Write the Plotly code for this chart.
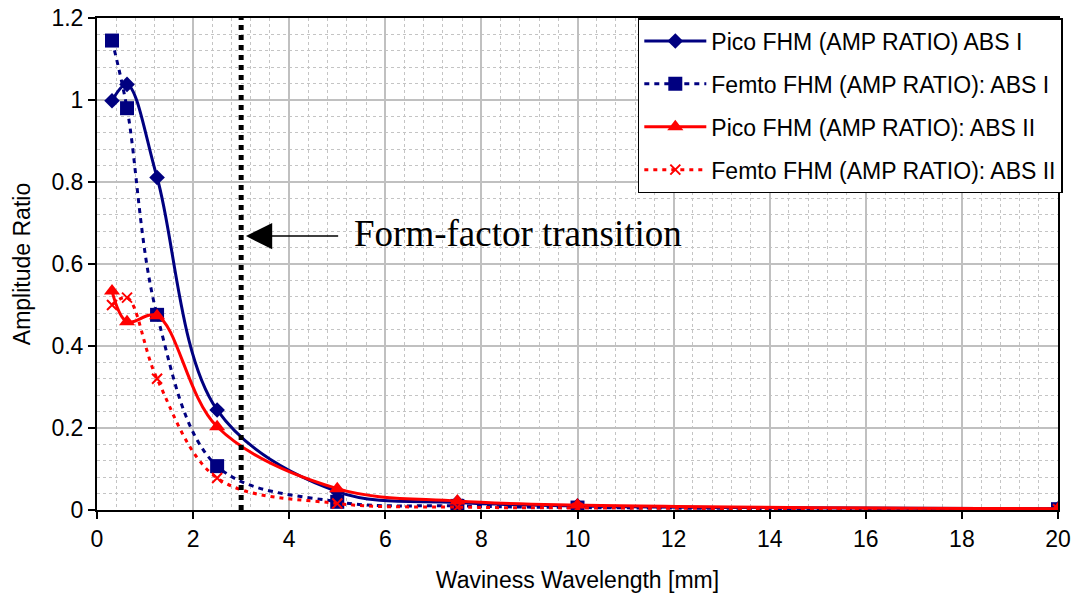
import plotly.graph_objects as go

wavelength = [0.3125, 0.625, 1.25, 2.5, 5, 7.5, 10, 20]
pico_abs1 = [0.998, 1.038, 0.811, 0.244, 0.045, 0.018, 0.010, 0.003]
femto_abs1 = [1.145, 0.980, 0.476, 0.107, 0.020, 0.010, 0.006, 0.002]
pico_abs2 = [0.534, 0.459, 0.474, 0.203, 0.052, 0.022, 0.012, 0.003]
femto_abs2 = [0.500, 0.518, 0.320, 0.078, 0.016, 0.007, 0.005, 0.002]

names = ["Pico FHM (AMP RATIO) ABS I", "Femto FHM (AMP RATIO): ABS I",
         "Pico FHM (AMP RATIO): ABS II", "Femto FHM (AMP RATIO): ABS II"]
transition_x = 3
annotation_text = "Form-factor transition"

NAVY = "#000080"
RED = "#FF0000"

fig = go.Figure()
fig.add_trace(go.Scatter(x=wavelength, y=pico_abs1, name=names[0], mode="lines+markers",
                         line=dict(color=NAVY, width=3, shape="spline"),
                         marker=dict(symbol="diamond", size=12, color=NAVY),
                         legendgroup="a"))
fig.add_trace(go.Scatter(x=wavelength, y=femto_abs1, name=names[1], mode="lines+markers",
                         line=dict(color=NAVY, width=3, shape="spline", dash="5px,5px"),
                         marker=dict(symbol="square", size=14, color=NAVY),
                         legendgroup="b"))
fig.add_trace(go.Scatter(x=wavelength, y=pico_abs2, name=names[2], mode="lines+markers",
                         line=dict(color=RED, width=3, shape="spline"),
                         marker=dict(symbol="triangle-up", size=14, color=RED),
                         legendgroup="c"))
fig.add_trace(go.Scatter(x=wavelength, y=femto_abs2, name=names[3], mode="lines+markers",
                         line=dict(color=RED, width=3, shape="spline", dash="4px,5px"),
                         marker=dict(symbol="x-thin", size=10, color=RED,
                                     line=dict(color=RED, width=2)),
                         legendgroup="d"))

# vertical transition line
fig.add_shape(type="line", x0=transition_x, x1=transition_x, y0=0, y1=1.2,
              xref="x", yref="y", line=dict(color="black", width=5, dash="dot"), layer="above")

# arrow
fig.add_annotation(x=3.1, y=0.668, ax=5.05, ay=0.668, xref="x", yref="y",
                   axref="x", ayref="y", text="", showarrow=True,
                   arrowhead=2, arrowsize=3.5, arrowwidth=1.5, arrowcolor="black")
fig.add_annotation(x=5.3, y=0.675, xref="x", yref="y", text=annotation_text,
                   showarrow=False, xanchor="left", yanchor="middle",
                   font=dict(family="Liberation Serif", size=37, color="black"))

axis_common = dict(
    showline=True, linecolor="black", linewidth=2, mirror=True,
    ticks="outside", ticklen=7, tickwidth=2, tickcolor="black",
    showgrid=True, gridcolor="#C0C0C0", gridwidth=2,
    zeroline=False, automargin=False,
    tickfont=dict(family="Liberation Sans", size=23, color="black"),
)

minor_common = dict(showgrid=True, gridcolor="#C4C4C4", griddash="3px,3px",
                    gridwidth=1, ticks="")

fig.update_xaxes(range=[0, 20], dtick=2, tick0=0,
                 title=dict(text="Waviness Wavelength [mm]",
                            font=dict(family="Liberation Sans", size=23, color="black"),
                            standoff=21),
                 minor=dict(dtick=0.4, **minor_common),
                 **axis_common)
fig.update_yaxes(range=[0, 1.2], dtick=0.2, tick0=0,
                 title=dict(text="Amplitude Ratio",
                            font=dict(family="Liberation Sans", size=23, color="black"),
                            standoff=14),
                 minor=dict(dtick=0.04, **minor_common),
                 **axis_common)

fig.update_layout(
    width=1076, height=601,
    margin=dict(l=97, r=18, t=18, b=91),
    paper_bgcolor="white", plot_bgcolor="white",
    showlegend=True,
    legend=dict(x=1.005, y=1.0, xanchor="right", yanchor="top",
                bgcolor="white", bordercolor="black", borderwidth=1.5,
                font=dict(family="Liberation Sans", size=23, color="black"),
                tracegroupgap=10, traceorder="grouped", itemwidth=62),
)

fig.write_html("out.html")
